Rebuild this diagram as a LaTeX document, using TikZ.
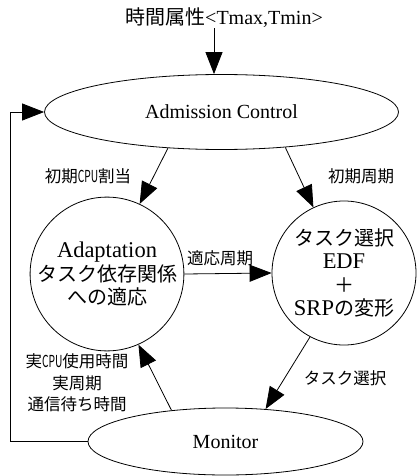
\documentclass[tikz,border=0pt]{standalone}
\usepackage{fontspec}
\setmainfont{Liberation Serif}
\newfontfamily\jp{Noto Sans CJK JP}
\usetikzlibrary{arrows.meta,shapes.geometric}
\newcommand\cpuword{\scalebox{0.62}[1]{CPU}}
\newcommand\latbig[1]{{\fontsize{22.5}{23.5}\selectfont #1}}
\begin{document}
\begin{tikzpicture}[x=1pt,y=-1pt,
  arr/.style={-{Triangle[length=22pt,width=17pt]}, line width=0.8pt},
  ell/.style={draw, ellipse, inner sep=0pt, line width=0.8pt},
  circ/.style={draw, circle, minimum size=144pt, inner sep=0pt, line width=0.8pt},
  lbl/.style={font=\fontsize{16.5}{21.5}\selectfont\jp, align=center, inner sep=0pt},
  big/.style={font=\fontsize{20}{23.5}\selectfont, align=center, inner sep=0pt}]
\useasboundingbox (0,0) rectangle (416,476);

\node[big] (title) at (224,18) {{\jp 時間属性}<Tmax,Tmin>};
\node[ell, big, minimum width=354pt, minimum height=75pt] (ac) at (221.5,112) {Admission Control};
\node[circ, big] (ad) at (107,274) {\latbig{Adaptation}\\{\jp タスク依存関係}\\{\jp への適応}};
\node[circ, big] (ts) at (344,273) {{\jp タスク選択}\\\latbig{EDF}\\{\jp ＋}\\\latbig{SRP}{\jp の変形}};
\node[ell, big, minimum width=275pt, minimum height=67pt] (mon) at (225.5,441.5) {Monitor};

\coordinate (t) at (214,0);
\coordinate (fb) at (10,112);

\draw[arr] (title.south -| t) -- (ac.north -| t);
\draw[arr] (ac.214) -- (ad.65);
\draw[arr] (ac.331.6) -- (ts.115);
\draw[arr] (ad.east) -- (ts.west);
\draw[arr] (ts.242) -- (mon.39);
\draw[arr] (mon.150) -- (ad.-66);
\draw[arr] (mon.west) -| (fb) |- (ac.west);

\node[lbl] at (88,176) {初期\cpuword 割当};
\node[lbl] at (361,176) {初期周期};
\node[lbl] at (220,258) {適応周期};
\node[lbl] at (345,378) {タスク選択};
\node[lbl] at (77,383) {実\cpuword 使用時間\\実周期\\通信待ち時間};
\end{tikzpicture}
\end{document}
